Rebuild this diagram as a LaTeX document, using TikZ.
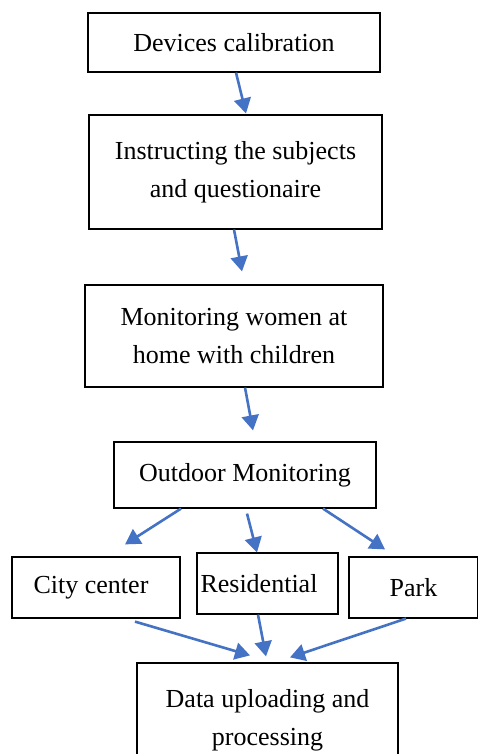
\documentclass[tikz,border=0pt]{standalone}
\usepackage{fontspec}
\setmainfont{Liberation Serif}
\usetikzlibrary{arrows.meta}
\definecolor{arrblue}{HTML}{4472C4}
\tikzset{
  box/.style={draw=black, line width=1.2pt, rectangle, align=center, inner sep=0pt,
    font=\fontsize{26}{38}\selectfont},
  arr/.style={draw=arrblue, line width=2.6pt, -{Triangle[width=17pt,length=15pt]}}
}
\begin{document}
\begin{tikzpicture}[x=1pt,y=-1pt]
\useasboundingbox (0,0) rectangle (477,754);
\node[box, minimum width=292pt, minimum height=59pt] (b1) at (234,42.5) {Devices calibration};
\node[box, minimum width=293pt, minimum height=114pt] (b2) at (235.5,172) {Instructing the subjects\\and questionaire};
\node[box, minimum width=298pt, minimum height=102pt] (b3) at (234,336) {Monitoring women at\\home with children};
\node[box, minimum width=262pt, minimum height=66pt] (b4) at (245,475) {Outdoor Monitoring};
\node[box, minimum width=168pt, minimum height=61pt] (city) at (96,587.5) {City center\hspace*{10pt}};
\node[box, minimum width=141pt, minimum height=61pt] (res) at (267.5,583.5) {Residential\hspace*{17pt}};
\node[box, minimum width=129pt, minimum height=61pt] (park) at (413.5,587.5) {Park};
\node[box, minimum width=261pt, minimum height=114pt] (data) at (267.5,720) {Data uploading and\\processing};
\draw[arr] ([xshift=2pt]b1.south) -- ([xshift=10.5pt,yshift=1pt]b2.north);
\draw[arr] ([xshift=-1.5pt]b2.south) -- ([xshift=8pt,yshift=13pt]b3.north);
\draw[arr] ([xshift=11pt]b3.south) -- ([xshift=8pt,yshift=11pt]b4.north);
\draw[arr] ([xshift=-64pt]b4.south) -- ([xshift=29pt,yshift=12pt]city.north);
\draw[arr] ([xshift=2pt,yshift=-5pt]b4.south) -- ([xshift=-10.5pt]res.north);
\draw[arr] ([xshift=78pt]b4.south) -- ([xshift=-28.5pt,yshift=7pt]park.north);
\draw[arr] ([xshift=39pt,yshift=-3pt]city.south) -- ([xshift=-17.5pt,yshift=7pt]data.north);
\draw[arr] ([xshift=-9.5pt]res.south) -- ([xshift=-1.5pt,yshift=6pt]data.north);
\draw[arr] ([xshift=-7.5pt]park.south) -- ([xshift=22.5pt,yshift=5pt]data.north);
\end{tikzpicture}
\end{document}
